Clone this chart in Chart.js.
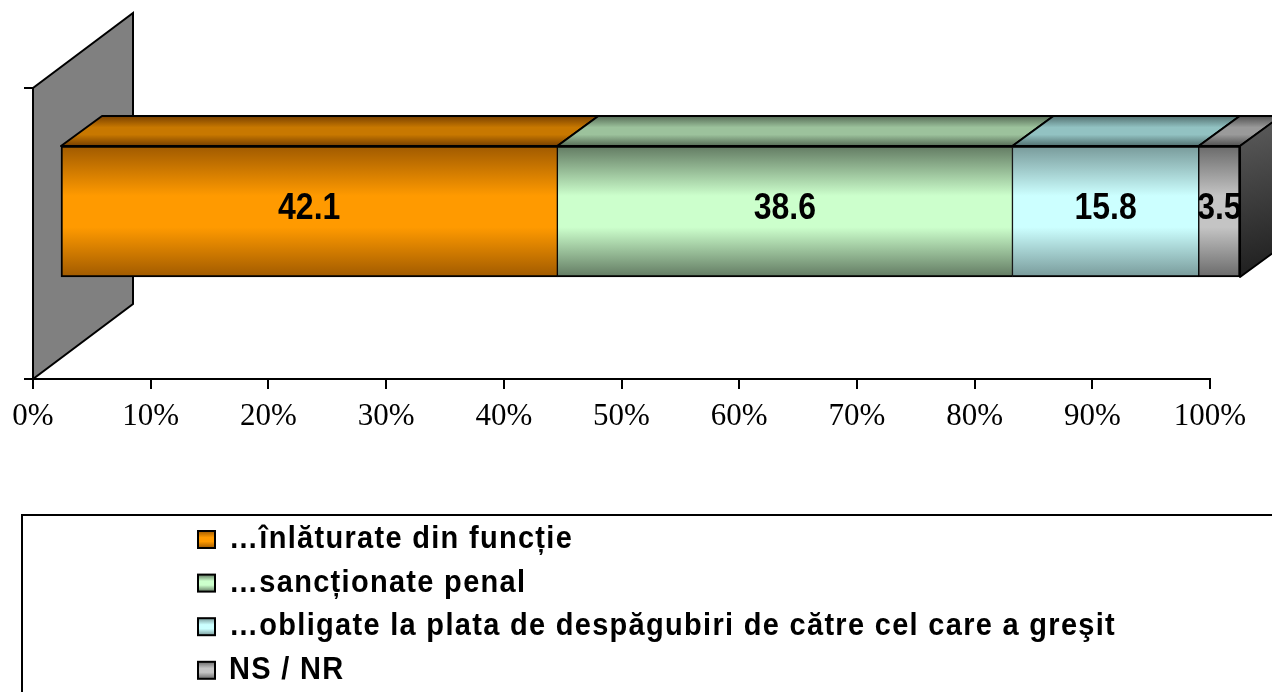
<!DOCTYPE html>
<html>
<head>
<meta charset="utf-8">
<script src="https://cdn.jsdelivr.net/npm/chart.js@4.4.1/dist/chart.umd.min.js"></script>
<style>
  html, body { margin: 0; padding: 0; background: #fff; }
  canvas { display: block; }
</style>
</head>
<body>
<canvas id="chart" width="1272" height="692"></canvas>
<script>
// values
const categories = [''];
const seriesLabels = [
    '…înlăturate din funcție',
    '…sancționate penal',
    '…obligate la plata de despăgubiri de către cel care a greşit',
    'NS / NR'
];
const seriesValues = [42.1, 38.6, 15.8, 3.5];
const tickLabels = ['0%', '10%', '20%', '30%', '40%', '50%', '60%', '70%', '80%', '90%', '100%'];

// shading for each series: front face and top face
const shades = [
    { light: '#ff9a00', dark: '#a05a00', topLight: '#c87800', topDark: '#784000' },
    { light: '#ccffcc', dark: '#627a62', topLight: '#9cc29c', topDark: '#566c56' },
    { light: '#ccffff', dark: '#789a9a', topLight: '#92c2c2', topDark: '#527070' },
    { light: '#c4c4c4', dark: '#6a6a6a', topLight: '#9a9a9a', topDark: '#505050' }
];

// 3D look
const BAR_THICK = 131;
const DEPTH_DX = 41, DEPTH_DY = 30;
const WALL_DX = 100, WALL_DY = 75;

function vertGradient(ctx, y0, y1, dark, light) {
    const g = ctx.createLinearGradient(0, y0, 0, y1);
    g.addColorStop(0, dark);
    g.addColorStop(0.38, light);
    g.addColorStop(0.62, light);
    g.addColorStop(1, dark);
    return g;
}

function frontFill(s) {
    return function(c) {
        const ys = c.chart.scales.y2;
        const cy = ys ? ys.getPixelForValue(0) : NaN;
        if (!Number.isFinite(cy)) return s.light;
        return vertGradient(c.chart.ctx, cy - BAR_THICK / 2, cy + BAR_THICK / 2, s.dark, s.light);
    };
}

const depth3d = {
    id: 'depth3d',
    beforeDatasetsDraw(chart) {
        // grey back wall behind the bar
        const ctx = chart.ctx;
        const x0 = chart.scales.x.left;
        const yTop = chart.scales.y.top, yBot = chart.scales.y.bottom;
        ctx.save();
        ctx.beginPath();
        ctx.moveTo(x0, yBot);
        ctx.lineTo(x0, yTop);
        ctx.lineTo(x0 + WALL_DX, yTop - WALL_DY);
        ctx.lineTo(x0 + WALL_DX, yBot - WALL_DY);
        ctx.closePath();
        ctx.fillStyle = '#808080';
        ctx.fill();
        ctx.lineWidth = 2;
        ctx.strokeStyle = '#000';
        ctx.stroke();
        ctx.restore();
    },
    afterDatasetsDraw(chart) {
        const ctx = chart.ctx;
        const n = chart.data.datasets.length;
        ctx.save();
        ctx.lineWidth = 2;
        ctx.strokeStyle = '#000';
        ctx.lineJoin = 'round';
        chart.data.datasets.forEach((ds, i) => {
            const bar = chart.getDatasetMeta(i).data[0];
            const p = bar.getProps(['x', 'y', 'base', 'height'], true);
            const left = Math.min(p.x, p.base), right = Math.max(p.x, p.base);
            const top = p.y - p.height / 2, bottom = p.y + p.height / 2;

            // top face
            ctx.beginPath();
            ctx.moveTo(left, top);
            ctx.lineTo(left + DEPTH_DX, top - DEPTH_DY);
            ctx.lineTo(right + DEPTH_DX, top - DEPTH_DY);
            ctx.lineTo(right, top);
            ctx.closePath();
            ctx.fillStyle = vertGradient(ctx, top - DEPTH_DY, top, shades[i].topDark, shades[i].topLight);
            ctx.fill();
            ctx.stroke();

            // end face of the last segment
            if (i === n - 1) {
                ctx.beginPath();
                ctx.moveTo(right, top);
                ctx.lineTo(right + DEPTH_DX, top - DEPTH_DY);
                ctx.lineTo(right + DEPTH_DX, bottom - DEPTH_DY);
                ctx.lineTo(right, bottom);
                ctx.closePath();
                const g = ctx.createLinearGradient(right, top - DEPTH_DY, right + DEPTH_DX, bottom);
                g.addColorStop(0, '#5e5e5e');
                g.addColorStop(1, '#1c1c1c');
                ctx.fillStyle = g;
                ctx.fill();
                ctx.stroke();
            }
        });

        // value labels, centred on each segment's front face
        chart.data.datasets.forEach((ds, i) => {
            const bar = chart.getDatasetMeta(i).data[0];
            const p = bar.getProps(['x', 'y', 'base', 'height'], true);
            const left = Math.min(p.x, p.base), right = Math.max(p.x, p.base);
            ctx.save();
            ctx.beginPath();
            ctx.rect(left - 3, p.y - p.height / 2, 400, p.height);
            ctx.clip();
            ctx.translate((left + right) / 2, p.y - 3);
            ctx.scale(1, 1.18);
            ctx.font = 'bold 32px "Liberation Sans", Arial, sans-serif';
            ctx.fillStyle = '#000';
            ctx.textAlign = 'center';
            ctx.textBaseline = 'middle';
            ctx.fillText(ds.data[0].x.toFixed(1), 0, 0);
            ctx.restore();
        });
        ctx.restore();
    }
};

const boxLegend = {
    id: 'boxLegend',
    afterDraw(chart) {
        const ctx = chart.ctx;
        ctx.save();
        ctx.lineWidth = 2;
        ctx.strokeStyle = '#000';
        ctx.strokeRect(22, 515, 1400, 400);

        chart.data.datasets.forEach((ds, i) => {
            const cy = 539.5 + i * 43.6;
            const mx = 198, ms = 17;
            ctx.fillStyle = vertGradient(ctx, cy - ms / 2, cy + ms / 2, shades[i].dark, shades[i].light);
            ctx.fillRect(mx, cy - ms / 2, ms, ms);
            ctx.strokeRect(mx, cy - ms / 2, ms, ms);

            ctx.save();
            ctx.translate(229, cy);
            ctx.scale(1, 1.06);
            ctx.font = 'bold 29px "Liberation Sans", Arial, sans-serif';
            ctx.letterSpacing = '1.3px';
            ctx.fillStyle = '#000';
            ctx.textAlign = 'left';
            ctx.textBaseline = 'middle';
            ctx.fillText(ds.label, 0, 0);
            ctx.restore();
        });
        ctx.restore();
    }
};

new Chart(document.getElementById('chart'), {
    type: 'bar',
    data: {
        labels: categories,
        datasets: seriesValues.map((v, i) => ({
            label: seriesLabels[i],
            data: [{ x: v, y: 0 }],
            xAxisID: 'x2',
            yAxisID: 'y2',
            backgroundColor: frontFill(shades[i]),
            borderColor: '#000',
            borderWidth: { top: 2, bottom: 2, left: i === 0 ? 2 : 1, right: i === seriesValues.length - 1 ? 2 : 1 },
            borderSkipped: false,
            barThickness: BAR_THICK,
            clip: false
        }))
    },
    options: {
        indexAxis: 'y',
        responsive: false,
        animation: false,
        events: [],
        layout: { padding: { top: 88, right: 62, bottom: 0, left: 0 } },
        plugins: {
            legend: { display: false },
            tooltip: { enabled: false }
        },
        scales: {
            x: {
                type: 'linear',
                position: 'bottom',
                min: 0,
                max: 100,
                afterFit(s) { s.height = 692 - 379; },
                grid: { drawOnChartArea: false, color: '#000', lineWidth: 2, tickLength: 10 },
                border: { color: '#000', width: 2 },
                ticks: {
                    stepSize: 10,
                    autoSkip: false,
                    maxRotation: 0,
                    padding: 9,
                    color: '#000',
                    font: { family: '"Liberation Serif", "Times New Roman", serif', size: 31 },
                    callback: (v, i) => tickLabels[i]
                }
            },
            y: {
                type: 'category',
                position: 'left',
                offset: true,
                afterFit(s) { s.width = 33; },
                grid: { drawOnChartArea: false, offset: true, color: '#000', lineWidth: 2, tickLength: 9 },
                border: { color: '#000', width: 2 },
                ticks: { display: false }
            },
            // hidden scales that place the front faces of the 3D bar
            x2: { type: 'linear', display: false, stacked: true, min: -2.375, max: 97.455 },
            y2: { type: 'linear', display: false, stacked: true, offset: false, min: -1.151, max: 0.849 }
        }
    },
    plugins: [depth3d, boxLegend]
});
</script>
</body>
</html>
